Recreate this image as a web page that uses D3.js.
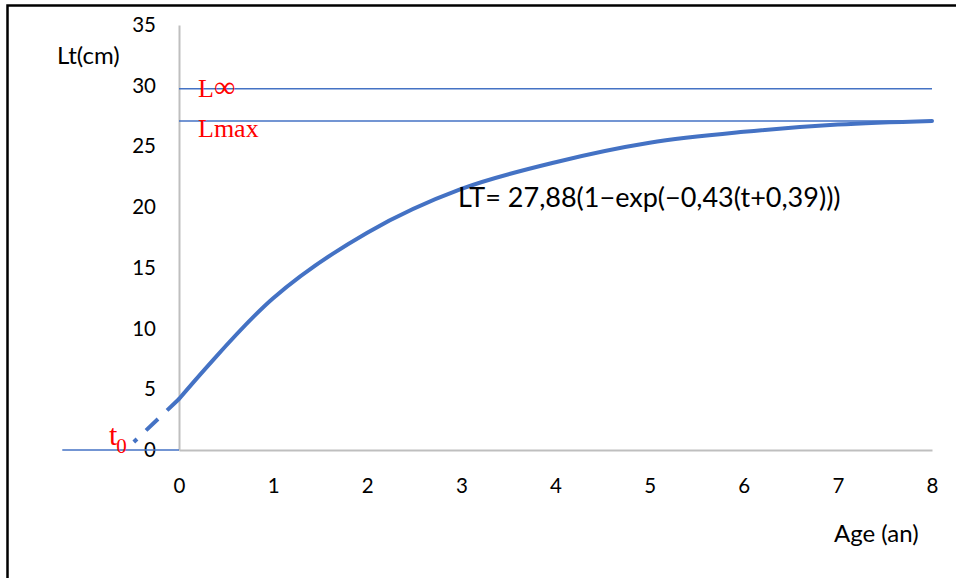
<!DOCTYPE html>
<html>
<head>
<meta charset="utf-8">
<script src="https://cdn.jsdelivr.net/npm/d3@7"></script>
<style>
  body { margin: 0; background: #fff; }
  svg text { font-family: Lato, "Open Sans", sans-serif; }
</style>
</head>
<body>
<div id="chart"></div>
<script>
// growth curve
var ages = [0, 1, 2, 3, 4, 5, 6, 7, 8];
var lengths = [4.2, 12.5, 17.9, 21.5, 23.7, 25.3, 26.2, 26.8, 27.1];
// dashed back-extrapolation towards t0
var extAges = [0, -0.48];
var extLengths = [4.2, 0.66];
// thin zero line left of the axis
var baseAges = [-1.24, 0];
var baseLengths = [0, 0];
// reference levels
var refNames = ["L∞", "Lmax"];
var refValues = [29.75, 27.1];
var xTicks = [0, 1, 2, 3, 4, 5, 6, 7, 8];
var yTicks = [0, 5, 10, 15, 20, 25, 30, 35];

var width = 956, height = 578;
var blue = "#4472C4", axisGrey = "#BFBFBF";

var svg = d3.select("#chart").append("svg")
    .attr("width", width)
    .attr("height", height);

// frame (only top and left edges show)
svg.append("rect")
    .attr("x", 7.5).attr("y", 5.5)
    .attr("width", 1000).attr("height", 1000)
    .attr("fill", "none")
    .attr("stroke", "#000")
    .attr("stroke-width", 2.5);

var x = d3.scaleLinear().domain([0, 8]).range([179, 932]);
var y = d3.scaleLinear().domain([0, 35]).range([450, 25]);

// Y axis
var yAxis = svg.append("g")
    .attr("transform", "translate(" + x(0) + ",0)")
    .call(d3.axisLeft(y).tickValues(yTicks).tickSize(0).tickPadding(23));
yAxis.select(".domain").attr("stroke", axisGrey).attr("stroke-width", 2);
yAxis.selectAll("text").attr("font-size", 20.5).attr("fill", "#000")
    .style("font-family", "Lato, sans-serif");

// X axis
var xAxis = svg.append("g")
    .attr("transform", "translate(0," + y(0) + ")")
    .call(d3.axisBottom(x).tickValues(xTicks).tickSize(0).tickPadding(28));
xAxis.select(".domain").attr("stroke", axisGrey).attr("stroke-width", 2);
xAxis.selectAll("text").attr("font-size", 20.5).attr("fill", "#000")
    .style("font-family", "Lato, sans-serif");

var line = d3.line()
    .x(function(d) { return x(d[0]); })
    .y(function(d) { return y(d[1]); });

// zero line to the left
svg.append("path")
    .datum(d3.zip(baseAges, baseLengths))
    .attr("d", line)
    .attr("fill", "none")
    .attr("stroke", blue)
    .attr("stroke-width", 1.5);

// reference lines
refValues.forEach(function(v) {
  svg.append("path")
      .datum([[0, v], [8, v]])
      .attr("d", line)
      .attr("fill", "none")
      .attr("stroke", blue)
      .attr("stroke-width", 1.5);
});

// dashed extension
svg.append("path")
    .datum(d3.zip(extAges, extLengths))
    .attr("d", line)
    .attr("fill", "none")
    .attr("stroke", blue)
    .attr("stroke-width", 4)
    .attr("stroke-dasharray", "16.5,12.5");

// growth curve
svg.append("path")
    .datum(d3.zip(ages, lengths))
    .attr("d", line.curve(d3.curveCatmullRom.alpha(0.5)))
    .attr("fill", "none")
    .attr("stroke", blue)
    .attr("stroke-width", 4)
    .attr("stroke-linecap", "round");

// red labels
var linf = svg.append("text")
    .attr("x", 198).attr("y", 97)
    .attr("fill", "red")
    .style("font-family", "'Liberation Serif', serif")
    .attr("font-size", 26);
linf.append("tspan").text(refNames[0].charAt(0));
linf.append("tspan").attr("font-size", 30).text(refNames[0].charAt(1));
svg.append("text")
    .attr("x", 198).attr("y", 137)
    .attr("fill", "red")
    .style("font-family", "'Liberation Serif', serif")
    .attr("font-size", 26)
    .text(refNames[1]);

var t0 = svg.append("text")
    .attr("x", 109).attr("y", 445)
    .attr("fill", "red")
    .style("font-family", "'Liberation Serif', serif")
    .attr("font-size", 30);
t0.append("tspan").text("t");
t0.append("tspan").attr("dx", -1).attr("dy", 8).attr("font-size", 21).text("0");

// axis titles and formula
svg.append("text")
    .attr("x", 57).attr("y", 64)
    .attr("font-size", 24)
    .text("Lt(cm)");
svg.append("text")
    .attr("x", 834).attr("y", 542)
    .attr("font-size", 24)
    .text("Age (an)");
svg.append("text")
    .attr("x", 458).attr("y", 207)
    .attr("font-size", 27)
    .text("LT= 27,88(1\u2212exp(\u22120,43(t+0,39)))");
</script>
</body>
</html>
